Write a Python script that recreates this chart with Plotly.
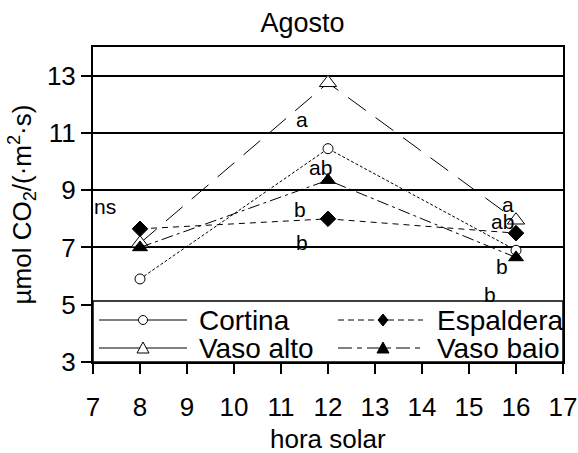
import plotly.graph_objects as go

# Net CO2 assimilation in August for four training systems
hours = [8, 12, 16]
cortina = [5.9, 10.45, 6.9]
espaldera = [7.65, 8.0, 7.5]
vaso_alto = [7.15, 12.75, 7.95]
vaso_baio = [7.0, 9.35, 6.65]

series_names = ["Cortina", "Espaldera", "Vaso alto", "Vaso baio"]
x_ticks = list(range(7, 18))
y_ticks = [3, 5, 7, 9, 11, 13]

# Significance letters (text, hour, value position)
sig_letters = [
    ("ns", 7.26, 8.43),
    ("a", 11.45, 11.48),
    ("ab", 11.83, 9.8),
    ("b", 11.4, 8.33),
    ("b", 11.45, 7.17),
    ("a", 15.83, 8.5),
    ("ab", 15.72, 7.91),
    ("b", 15.7, 6.34),
    ("b", 15.45, 5.36),
]

FONT = "Arial, Liberation Sans, sans-serif"
INK = "black"

styles = {
    "Cortina": dict(dash="3px,2px", symbol="circle", size=10, color="white"),
    "Espaldera": dict(dash="6px,5px", symbol="diamond", size=12, color=INK),
    "Vaso alto": dict(dash="22px,12px", symbol="triangle-up", size=15, color="white"),
    "Vaso baio": dict(dash="12px,4px,3px,4px", symbol="triangle-up", size=13, color=INK),
}

fig = go.Figure()
for name, values in zip(series_names, [cortina, espaldera, vaso_alto, vaso_baio]):
    st = styles[name]
    fig.add_trace(go.Scatter(
        x=hours, y=values, name=name, mode="lines+markers",
        line=dict(color=INK, width=1, dash=st["dash"]),
        marker=dict(symbol=st["symbol"], size=st["size"],
                    color=st["color"], line=dict(color=INK, width=1)),
        showlegend=False,
    ))

annotations = []
for txt, hx, vy in sig_letters:
    annotations.append(dict(x=hx, y=vy, xref="x", yref="y", text=txt, showarrow=False,
                            font=dict(family=FONT, size=21, color=INK)))

# x-axis title
annotations.append(dict(x=0.5, y=-0.2444, xref="paper", yref="paper", text="hora solar",
                        xanchor="center", yanchor="middle", showarrow=False,
                        font=dict(family=FONT, size=26, color=INK)))

# Boxed key at the foot of the plot area
shapes = [dict(type="rect", xref="paper", yref="paper", x0=0, x1=1, y0=0, y1=0.194,
               fillcolor="white", line=dict(color=INK, width=1.5), layer="above")]

key_rows = {"Cortina": 0.1333, "Espaldera": 0.1333, "Vaso alto": 0.0444, "Vaso baio": 0.0444}
key_cols = {"Cortina": (0.0128, 0.2, 0.1064, 0.2213),
            "Vaso alto": (0.0128, 0.2, 0.1064, 0.2213),
            "Espaldera": (0.5213, 0.7021, 0.617, 0.7277),
            "Vaso baio": (0.5213, 0.7021, 0.617, 0.7277)}
key_dash = {"Cortina": "solid", "Vaso alto": "solid",
            "Espaldera": "6px,4px", "Vaso baio": "14px,5px,5px,5px"}
key_marks = {
    "Cortina": ("circle", "white"),
    "Espaldera": ("M0,6 L5,0 L0,-6 L-5,0 Z", INK),
    "Vaso alto": ("M-6,-5 L6,-5 L0,6 Z", "white"),
    "Vaso baio": ("M-6,-5 L6,-5 L0,6 Z", INK),
}
for name in series_names:
    x0, x1, xm, xt = key_cols[name]
    yr = key_rows[name]
    shapes.append(dict(type="line", xref="paper", yref="paper", x0=x0, x1=x1, y0=yr, y1=yr,
                       line=dict(color=INK, width=1, dash=key_dash[name]), layer="above"))
    mark, fill = key_marks[name]
    if mark == "circle":
        shapes.append(dict(type="circle", xref="paper", yref="paper",
                           xsizemode="pixel", ysizemode="pixel", xanchor=xm, yanchor=yr,
                           x0=-4.5, x1=4.5, y0=-4.5, y1=4.5,
                           fillcolor=fill, line=dict(color=INK, width=1), layer="above"))
    else:
        shapes.append(dict(type="path", xref="paper", yref="paper",
                           xsizemode="pixel", ysizemode="pixel", xanchor=xm, yanchor=yr,
                           path=mark, fillcolor=fill, line=dict(color=INK, width=1),
                           layer="above"))
    annotations.append(dict(x=xt, y=yr, xref="paper", yref="paper", text=name,
                            xanchor="left", yanchor="middle", showarrow=False,
                            font=dict(family=FONT, size=28, color=INK)))

fig.update_layout(
    width=578, height=453,
    margin=dict(l=93, r=15, t=47, b=91, autoexpand=False),
    paper_bgcolor="white", plot_bgcolor="white",
    font=dict(family=FONT, color=INK, size=26),
    title=dict(text="Agosto", x=0.5234, xref="container", xanchor="center",
               y=1 - 23 / 453, yref="container", yanchor="middle", automargin=False,
               font=dict(family=FONT, size=27, color=INK)),
    xaxis=dict(range=[7, 17], tickvals=x_ticks, ticktext=[str(v) for v in x_ticks],
               showgrid=False, zeroline=False, showline=True, mirror=True,
               linecolor=INK, linewidth=2, ticks="outside", ticklen=10, tickwidth=1.5,
               tickcolor=INK, ticklabelstandoff=11, tickfont=dict(size=26),
               automargin=False),
    yaxis=dict(range=[3, 14], tickvals=y_ticks, ticktext=[str(v) for v in y_ticks],
               showgrid=True, gridcolor=INK, gridwidth=1.5, zeroline=False,
               showline=True, mirror=True, linecolor=INK, linewidth=2,
               ticks="outside", ticklen=10, tickwidth=1.5, tickcolor=INK,
               ticklabelstandoff=0, tickfont=dict(size=26), automargin=False,
               title=dict(text="µmol CO<sub>2</sub>/(·m<sup>2</sup>·s)", standoff=8,
                          font=dict(size=26))),
    shapes=shapes,
    annotations=annotations,
    showlegend=False,
)

fig.write_html("out.html")
